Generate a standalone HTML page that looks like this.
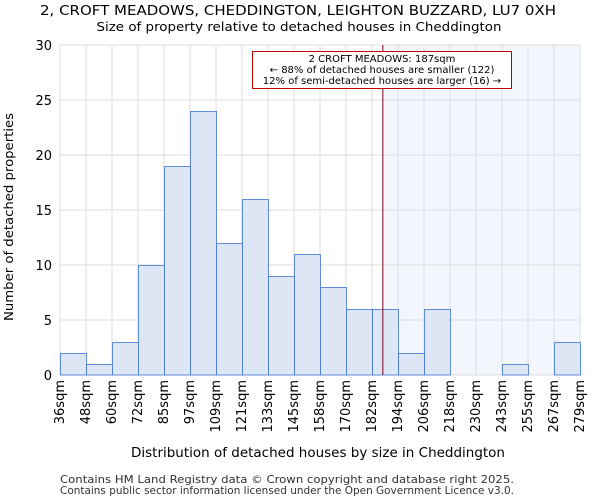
<!DOCTYPE html>
<html><head><meta charset="utf-8"><style>
body{margin:0;background:#fff;font-family:"DejaVu Sans","Liberation Sans",sans-serif;}
</style></head><body>
<svg id="chart" width="600" height="500" xmlns="http://www.w3.org/2000/svg" font-family="DejaVu Sans, Liberation Sans, sans-serif">
<text x="298" y="15" text-anchor="middle" font-size="13" textLength="516" lengthAdjust="spacingAndGlyphs">2, CROFT MEADOWS, CHEDDINGTON, LEIGHTON BUZZARD, LU7 0XH</text>
<text x="299" y="31" text-anchor="middle" font-size="12.5" textLength="405" lengthAdjust="spacingAndGlyphs">Size of property relative to detached houses in Cheddington</text>
<g id="plot"></g>
<text x="318" y="457" text-anchor="middle" font-size="13" textLength="374" lengthAdjust="spacingAndGlyphs">Distribution of detached houses by size in Cheddington</text>
<text transform="translate(13,217) rotate(-90)" text-anchor="middle" font-size="12.5" textLength="208" lengthAdjust="spacingAndGlyphs">Number of detached properties</text>
<text x="60" y="483" font-size="10.5" fill="#333" textLength="454" lengthAdjust="spacingAndGlyphs">Contains HM Land Registry data © Crown copyright and database right 2025.</text>
<text x="60" y="494" font-size="10.5" fill="#333" textLength="454" lengthAdjust="spacingAndGlyphs">Contains public sector information licensed under the Open Government Licence v3.0.</text>
</svg>
<script>
const categories=["36sqm","48sqm","60sqm","72sqm","85sqm","97sqm","109sqm","121sqm","133sqm","145sqm","158sqm","170sqm","182sqm","194sqm","206sqm","218sqm","230sqm","243sqm","255sqm","267sqm","279sqm"];
const counts=[2,1,3,10,19,24,12,16,9,11,8,6,6,2,6,0,0,1,0,3];
const yTicks=[0,5,10,15,20,25,30];
const markerBin=12+5/12;
const NS="http://www.w3.org/2000/svg";
const L=60,R=580,T=45,B=375,yMax=30;
const nb=counts.length,bw=(R-L)/nb;
const X=i=>L+i*bw, Y=v=>B-(v/yMax)*(B-T);
const g=document.getElementById('plot');
function el(t,a){const e=document.createElementNS(NS,t);for(const k in a)e.setAttribute(k,a[k]);g.appendChild(e);return e;}
let e;
e=el('rect',{x:X(markerBin),y:T,width:R-X(markerBin),height:B-T,fill:'#f3f6fd'});


for(const v of yTicks){e=el('line',{x1:L,x2:R,y1:Y(v),y2:Y(v),stroke:'#ddd'});


e=el('text',{x:L-8,y:Y(v)+5,'text-anchor':'end','font-size':13});e.textContent=v;

}
for(let i=0;i<=nb;i++){e=el('line',{x1:X(i),x2:X(i),y1:T,y2:B,stroke:'#ddd'});

}
counts.forEach((c,i)=>{if(c<=0)return;e=el('rect',{x:X(i)+0.5,y:Y(c)+0.5,width:bw,height:B-Y(c)-0.5,fill:'#dce6f5',stroke:'#3f74d0','stroke-width':0.8});

});
categories.forEach((c,i)=>{const x=X(i)+4;e=el('text',{transform:`translate(${x},380) rotate(-90)`,'text-anchor':'end','font-size':13});e.textContent=c;

});
e=el('line',{x1:X(markerBin),x2:X(markerBin),y1:T,y2:B,stroke:'#800020','stroke-width':1});


e=el('rect',{x:252.5,y:51.5,width:259,height:37,fill:'#fff',stroke:'#c00000'});


["2 CROFT MEADOWS: 187sqm","← 88% of detached houses are smaller (122)","12% of semi-detached houses are larger (16) →"].forEach((t,i)=>{e=el('text',{x:382,y:62+i*11,'text-anchor':'middle','font-size':10});e.textContent=t;

});
</script>
</body></html>
